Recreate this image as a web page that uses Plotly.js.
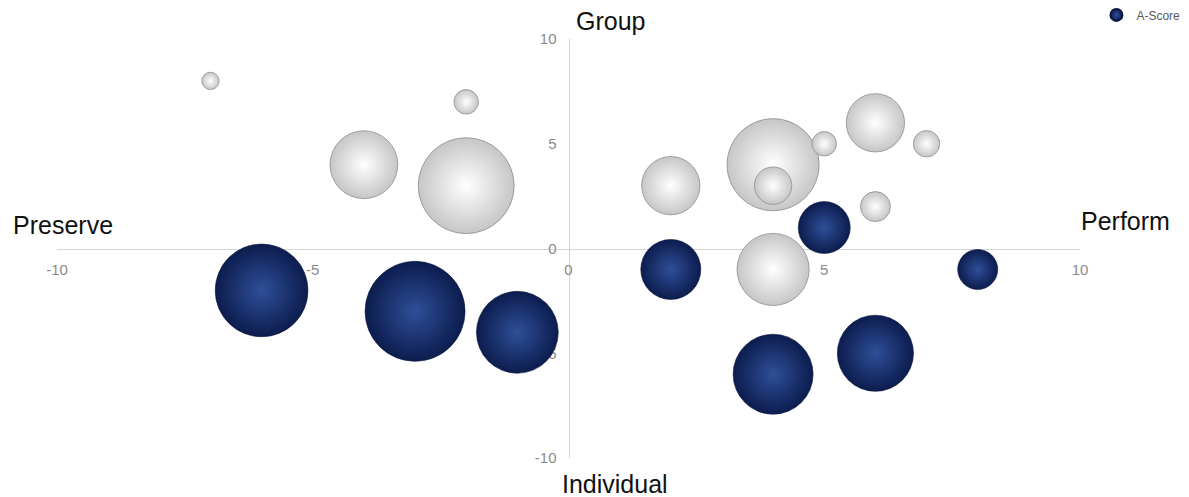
<!DOCTYPE html>
<html>
<head>
<meta charset="utf-8">
<script src="https://cdn.plot.ly/plotly-3.0.1.min.js"></script>
<style>
  html, body { margin: 0; padding: 0; background: #ffffff; }
  #chart { width: 1189px; height: 497px; }
</style>
</head>
<body>
<div id="chart"></div>
<script>
// Axis ticks shared by both axes
const tickValues = [-10, -5, 0, 5, 10];
const tickLabels = ['-10', '-5', '0', '5', '10'];

// Quadrant labels
const quadrantTop = 'Group';
const quadrantBottom = 'Individual';
const quadrantLeft = 'Preserve';
const quadrantRight = 'Perform';

// Light (unscored) positions
const lightX = [-7, -2, -4, -2, 2, 4, 4, 5, 6, 7, 6, 4];
const lightY = [8, 7, 4, 3, 3, 4, 3, 5, 6, 5, 2, -1];
const lightSize = [0.3, 0.6, 4.6, 9.2, 3.4, 8.5, 1.4, 0.6, 3.4, 0.7, 0.9, 5.2];

// A-Score series
const scoreName = 'A-Score';
const scoreX = [-6, -3, -1, 2, 5, 8, 4, 6];
const scoreY = [-2, -3, -4, -1, 1, -1, -6, -5];
const scoreSize = [8.6, 10, 6.7, 3.6, 2.7, 1.6, 6.4, 5.8];

const SIZEREF = 0.002;
const FONT = 'Liberation Sans, Arial, Helvetica, sans-serif';

// Radial gradient: gradient.color sits at the centre, marker.color at the rim
const traces = [
  {
    type: 'scatter', mode: 'markers',
    x: lightX, y: lightY,
    showlegend: false, hoverinfo: 'x+y',
    marker: {
      size: lightSize, sizemode: 'area', sizeref: SIZEREF,
      color: '#c6c6c6',
      gradient: { type: 'radial', color: '#ffffff' },
      line: { color: '#8e8e8e', width: 0.8 },
      opacity: 1
    }
  },
  {
    type: 'scatter', mode: 'markers',
    name: scoreName,
    x: scoreX, y: scoreY,
    marker: {
      size: scoreSize, sizemode: 'area', sizeref: SIZEREF,
      color: '#0c1c4e',
      gradient: { type: 'radial', color: '#2f4f98' },
      line: { color: '#0a173f', width: 0.6 },
      opacity: 1
    }
  }
];

const axisCommon = {
  range: [-10, 10],
  tickmode: 'array',
  tickvals: tickValues,
  ticktext: tickLabels,
  showgrid: false,
  zeroline: false,
  showline: true,
  linecolor: '#d4d4d4',
  linewidth: 1.2,
  ticks: '',
  tickfont: { family: FONT, size: 15, color: '#8a8a8a' },
  anchor: 'free',
  position: 0.5,
  layer: 'below traces',
  fixedrange: true
};

const titleFont = { family: FONT, size: 25, color: '#111111' };

const layout = {
  width: 1189,
  height: 497,
  margin: { l: 57, r: 109, t: 39, b: 39, autoexpand: false },
  paper_bgcolor: '#ffffff',
  plot_bgcolor: '#ffffff',
  xaxis: Object.assign({}, axisCommon, { ticklabelstandoff: 7 }),
  yaxis: Object.assign({}, axisCommon, { ticklabelstandoff: 9 }),
  showlegend: true,
  legend: {
    xref: 'container', yref: 'container',
    x: 0.997, xanchor: 'right',
    y: 0.97, yanchor: 'middle',
    font: { family: FONT, size: 12, color: '#595959' },
    itemsizing: 'constant',
    itemwidth: 30,
    bgcolor: 'rgba(0,0,0,0)'
  },
  annotations: [
    { text: quadrantTop, xref: 'paper', yref: 'paper', x: 0.5415, y: 1.0, xanchor: 'center', yanchor: 'bottom', yshift: 2, showarrow: false, font: titleFont },
    { text: quadrantBottom, xref: 'paper', yref: 'paper', x: 0.5455, y: 0, xanchor: 'center', yanchor: 'top', yshift: -10, showarrow: false, font: titleFont },
    { text: quadrantLeft, xref: 'paper', yref: 'paper', x: -0.045, y: 0.555, xanchor: 'left', yanchor: 'middle', showarrow: false, font: titleFont },
    { text: quadrantRight, xref: 'paper', yref: 'paper', x: 0.999, y: 0.565, xanchor: 'left', yanchor: 'middle', showarrow: false, font: titleFont }
  ]
};

Plotly.newPlot('chart', traces, layout, { displayModeBar: false, staticPlot: true });
</script>
</body>
</html>
